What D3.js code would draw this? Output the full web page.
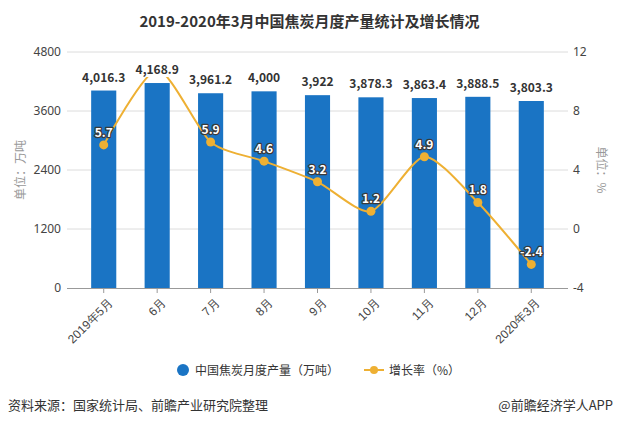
<!DOCTYPE html>
<html><head><meta charset="utf-8">
<script src="https://cdnjs.cloudflare.com/ajax/libs/d3/7.8.5/d3.min.js"></script>
<style>body{margin:0;background:#fff}svg{display:block;font-family:"Noto Sans CJK SC","Noto Sans",sans-serif}</style>
</head><body><svg id="c" width="619" height="425"></svg>
<script>
const categories = ["2019年5月","6月","7月","8月","9月","10月","11月","12月","2020年3月"];
const production = [4016.3,4168.9,3961.2,4000,3922,3878.3,3863.4,3888.5,3803.3];
const productionLabels = ["4,016.3","4,168.9","3,961.2","4,000","3,922","3,878.3","3,863.4","3,888.5","3,803.3"];
const growth = [5.7,10.8,5.9,4.6,3.2,1.2,4.9,1.8,-2.4];
const showGrowthLabel = [true,false,true,true,true,true,true,true,true];
const leftTicks = [0,1200,2400,3600,4800];
const rightTicks = [-4,0,4,8,12];

const svg = d3.select("#c");
const barColor = "#1a74c4", lineColor = "#eeb033";
const gx0 = 67, gx1 = 568;
const x = d3.scaleBand().domain(categories).range([77,558]).paddingInner(0.53).paddingOuter(0.265);
const yL = d3.scaleLinear().domain([0,4800]).range([288,52]);
const yR = d3.scaleLinear().domain([-4,12]).range([288,52]);
const fmtPlain = d => String(d);

svg.append("text").attr("x",309.5).attr("y",27).attr("text-anchor","middle")
  .attr("font-size",15).attr("font-weight","bold").attr("fill","#333")
  .text("2019-2020年3月中国焦炭月度产量统计及增长情况");

// gridlines
svg.append("g").selectAll("line").data(leftTicks.filter(d=>d>0)).join("line")
  .attr("x1",gx0).attr("x2",gx1).attr("y1",d=>yL(d)).attr("y2",d=>yL(d))
  .attr("stroke","#dcdcdc").attr("stroke-width",1);

// left axis
const axL = svg.append("g").attr("transform",`translate(${gx0},0)`)
  .call(d3.axisLeft(yL).tickValues(leftTicks).tickFormat(fmtPlain).tickSize(0).tickPadding(6));
axL.select(".domain").remove();
axL.selectAll("text").attr("font-size",12).attr("fill","#444").attr("font-family","Liberation Sans Narrow, 'Noto Sans', sans-serif");

const axR = svg.append("g").attr("transform",`translate(${gx1},0)`)
  .call(d3.axisRight(yR).tickValues(rightTicks).tickFormat(fmtPlain).tickSize(0).tickPadding(5));
axR.select(".domain").remove();
axR.selectAll("text").attr("font-size",12).attr("fill","#444").attr("font-family","Liberation Sans Narrow, 'Noto Sans', sans-serif");

// axis titles
svg.append("text").attr("transform","translate(25,170) rotate(-90)").attr("text-anchor","middle")
  .attr("font-size",12).attr("fill","#999").text("单位：万吨");
svg.append("text").attr("transform","translate(597,170) rotate(90)").attr("text-anchor","middle")
  .attr("font-size",12).attr("fill","#999").text("单位：%");

// bars
svg.append("g").selectAll("rect").data(production).join("rect")
  .attr("x",(d,i)=>x(categories[i])).attr("width",x.bandwidth())
  .attr("y",d=>yL(d)).attr("height",d=>yL(0)-yL(d)).attr("fill",barColor);

// x axis
const axB = svg.append("g").attr("transform","translate(0,288)")
  .call(d3.axisBottom(x).tickSize(5).tickSizeOuter(0));
axB.select(".domain").attr("d",`M${gx0},0.5H${gx1}`).attr("stroke","#999");
axB.selectAll(".tick line").attr("stroke","#999");
axB.selectAll("text").attr("font-size",12).attr("fill","#444")
  .attr("text-anchor","end").attr("dy",0).attr("transform","translate(4,10) rotate(-45)");

// line
const pts = growth.map((g,i)=>[x(categories[i])+x.bandwidth()/2, yR(g)]);
svg.append("path").datum(pts).attr("fill","none").attr("stroke",lineColor).attr("stroke-width",2)
  .attr("d",d3.line().curve(d3.curveCardinal.tension(0.3)));
svg.append("g").selectAll("circle").data(pts).join("circle")
  .attr("cx",d=>d[0]).attr("cy",d=>d[1]).attr("r",4.5).attr("fill",lineColor);

// growth labels
svg.append("g").selectAll("text").data(growth.map((g,i)=>({g,i})).filter(d=>showGrowthLabel[d.i])).join("text")
  .attr("x",d=>pts[d.i][0]).attr("y",d=>pts[d.i][1]-8).attr("text-anchor","middle")
  .attr("font-size",12).attr("font-weight","bold").attr("fill","#fff")
  .attr("stroke","#3a3a3a").attr("stroke-width",2.5).attr("paint-order","stroke").attr("stroke-linejoin","round")
  .text(d=>d.g.toFixed(1));

// bar labels (with white background)
const bl = svg.append("g").selectAll("g").data(production).join("g");
bl.each(function(d,i){
  const g = d3.select(this);
  const t = g.append("text").attr("x",x(categories[i])+x.bandwidth()/2).attr("y",yL(d)-9)
    .attr("text-anchor","middle").attr("font-size",12).attr("font-weight","bold").attr("fill","#333")
    .text(productionLabels[i]);
  const b = t.node().getBBox();
  g.insert("rect","text").attr("x",b.x-1).attr("y",b.y+1).attr("width",b.width+2).attr("height",b.height-1).attr("fill","#fff");
});

// legend
const lg = svg.append("g");
lg.append("circle").attr("cx",183).attr("cy",370).attr("r",6).attr("fill",barColor);
lg.append("text").attr("x",195).attr("y",374.5).attr("font-size",12).attr("fill","#333").text("中国焦炭月度产量（万吨）");
lg.append("line").attr("x1",364).attr("x2",384).attr("y1",370).attr("y2",370).attr("stroke",lineColor).attr("stroke-width",2);
lg.append("circle").attr("cx",374).attr("cy",370).attr("r",4).attr("fill",lineColor);
lg.append("text").attr("x",389).attr("y",374.5).attr("font-size",12).attr("fill","#333").text("增长率（%）");

// footer
svg.append("text").attr("x",8).attr("y",410).attr("font-size",13).attr("fill","#333").text("资料来源：国家统计局、前瞻产业研究院整理");
svg.append("text").attr("x",613).attr("y",410).attr("text-anchor","end").attr("font-size",13).attr("fill","#333").text("@前瞻经济学人APP");
</script></body></html>
